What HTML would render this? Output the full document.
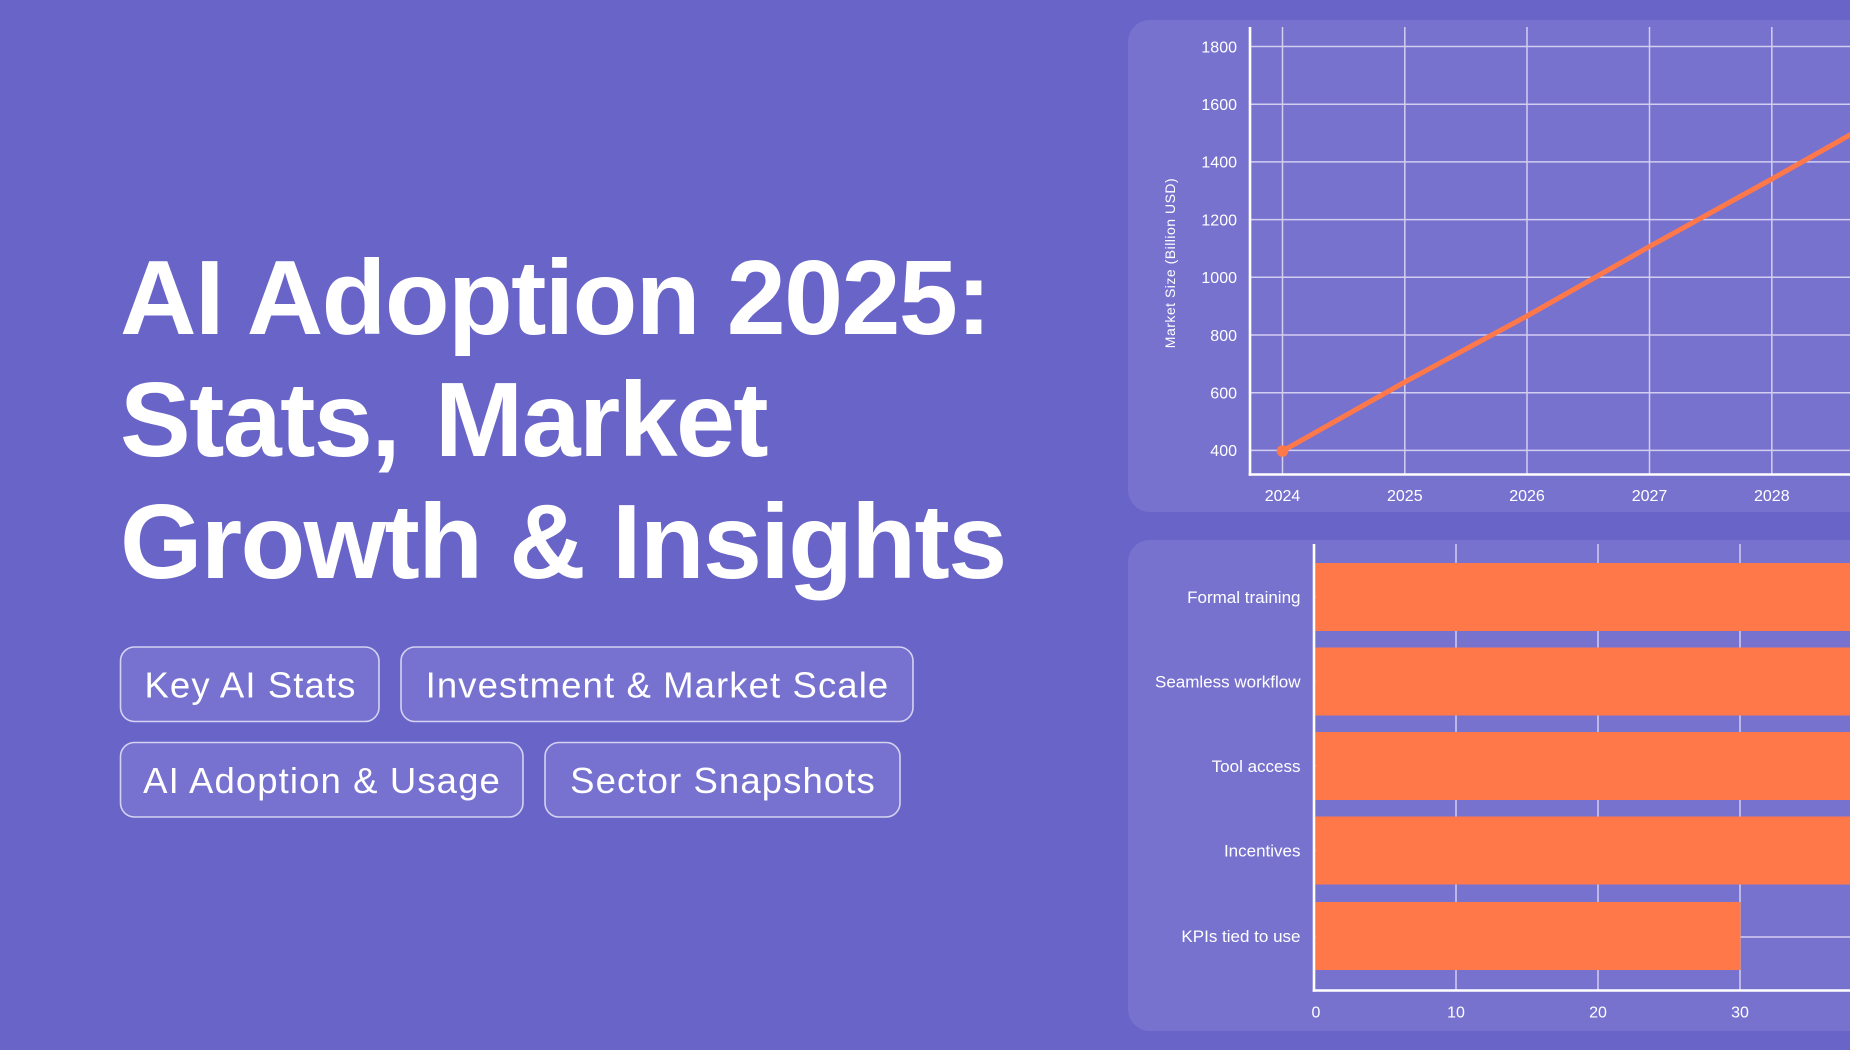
<!DOCTYPE html>
<html>
<head>
<meta charset="utf-8">
<style>
  html,body{margin:0;padding:0;background:#6964C8;}
  body{width:1850px;height:1050px;overflow:hidden;}
  svg{display:block;}
</style>
</head>
<body>
<svg width="1850" height="1050" viewBox="0 0 1850 1050" xmlns="http://www.w3.org/2000/svg">
  <rect x="0" y="0" width="1850" height="1050" fill="#6964C8"/>

  <!-- Title -->
  <g font-family="Liberation Sans, sans-serif" font-weight="700" font-size="106" fill="#ffffff" style="letter-spacing:-1.6px">
    <text x="120" y="334">AI Adoption 2025:</text>
    <text x="120" y="456" style="word-spacing:8px">Stats, Market</text>
    <text x="120" y="578">Growth &amp; Insights</text>
  </g>

  <!-- Pills -->
  <g fill="#7771D0" stroke="rgba(255,255,255,0.7)" stroke-width="1.6">
    <rect x="120.5" y="647" width="258.5" height="74.5" rx="14"/>
    <rect x="401" y="647" width="512" height="74.5" rx="14"/>
    <rect x="120.5" y="742.5" width="402.5" height="74.5" rx="14"/>
    <rect x="545" y="742.5" width="355" height="74.5" rx="14"/>
  </g>
  <g font-family="Liberation Sans, sans-serif" font-size="36.5" fill="#ffffff" text-anchor="middle" style="letter-spacing:1.1px">
    <text x="250.5" y="697.5">Key AI Stats</text>
    <text x="657.5" y="697.5">Investment &amp; Market Scale</text>
    <text x="322" y="793">AI Adoption &amp; Usage</text>
    <text x="723" y="793">Sector Snapshots</text>
  </g>

  <!-- ===== Top chart card ===== -->
  <rect x="1128" y="20" width="780" height="492" rx="22" fill="#7872CF"/>
  <g stroke="#D2CEF0" stroke-width="1.5">
    <line x1="1282.5" y1="27" x2="1282.5" y2="474"/>
    <line x1="1404.8" y1="27" x2="1404.8" y2="474"/>
    <line x1="1527" y1="27" x2="1527" y2="474"/>
    <line x1="1649.5" y1="27" x2="1649.5" y2="474"/>
    <line x1="1771.8" y1="27" x2="1771.8" y2="474"/>
    <line x1="1250" y1="46.5" x2="1850" y2="46.5"/>
    <line x1="1250" y1="104.2" x2="1850" y2="104.2"/>
    <line x1="1250" y1="161.9" x2="1850" y2="161.9"/>
    <line x1="1250" y1="219.6" x2="1850" y2="219.6"/>
    <line x1="1250" y1="277.3" x2="1850" y2="277.3"/>
    <line x1="1250" y1="335" x2="1850" y2="335"/>
    <line x1="1250" y1="392.7" x2="1850" y2="392.7"/>
    <line x1="1250" y1="450.4" x2="1850" y2="450.4"/>
  </g>
  <g stroke="#ffffff" stroke-width="2.6">
    <line x1="1250" y1="27" x2="1250" y2="475.8"/>
    <line x1="1248.7" y1="474.5" x2="1850" y2="474.5"/>
  </g>
  <polyline points="1282.5,451 1404.8,382 1527,316 1649.5,246.5 1771.8,179 1894,110" fill="none" stroke="#FF7849" stroke-width="5" stroke-linejoin="round" stroke-linecap="round"/>
  <circle cx="1282.5" cy="451" r="5.8" fill="#FF7849"/>
  <g font-family="Liberation Sans, sans-serif" font-size="16" fill="#ffffff" text-anchor="end">
    <text x="1237" y="52.3">1800</text>
    <text x="1237" y="110">1600</text>
    <text x="1237" y="167.7">1400</text>
    <text x="1237" y="225.4">1200</text>
    <text x="1237" y="283.1">1000</text>
    <text x="1237" y="340.8">800</text>
    <text x="1237" y="398.5">600</text>
    <text x="1237" y="456.2">400</text>
  </g>
  <g font-family="Liberation Sans, sans-serif" font-size="16" fill="#ffffff" text-anchor="middle">
    <text x="1282.5" y="501">2024</text>
    <text x="1404.8" y="501">2025</text>
    <text x="1527" y="501">2026</text>
    <text x="1649.5" y="501">2027</text>
    <text x="1771.8" y="501">2028</text>
  </g>
  <text transform="translate(1175,263) rotate(-90)" font-family="Liberation Sans, sans-serif" font-size="14" fill="#ffffff" text-anchor="middle" style="letter-spacing:0.5px">Market Size (Billion USD)</text>

  <!-- ===== Bottom chart card ===== -->
  <rect x="1128" y="540" width="780" height="491" rx="22" fill="#7872CF"/>
  <g stroke="#D2CEF0" stroke-width="1.5">
    <line x1="1456" y1="544" x2="1456" y2="990"/>
    <line x1="1598" y1="544" x2="1598" y2="990"/>
    <line x1="1740" y1="544" x2="1740" y2="990"/>
    <line x1="1315" y1="597" x2="1850" y2="597"/>
    <line x1="1315" y1="681.5" x2="1850" y2="681.5"/>
    <line x1="1315" y1="766" x2="1850" y2="766"/>
    <line x1="1315" y1="850.5" x2="1850" y2="850.5"/>
    <line x1="1315" y1="937" x2="1850" y2="937"/>
  </g>
  <g fill="#FF7849">
    <rect x="1315.5" y="563" width="540" height="68"/>
    <rect x="1315.5" y="647.5" width="540" height="68"/>
    <rect x="1315.5" y="732" width="540" height="68"/>
    <rect x="1315.5" y="816.5" width="540" height="68"/>
    <rect x="1315.5" y="902" width="425" height="68"/>
  </g>
  <g stroke="#ffffff" stroke-width="2.6">
    <line x1="1314" y1="544" x2="1314" y2="991.8"/>
    <line x1="1312.7" y1="990.5" x2="1850" y2="990.5"/>
  </g>
  <g font-family="Liberation Sans, sans-serif" font-size="17" fill="#ffffff" text-anchor="end">
    <text x="1300.5" y="603">Formal training</text>
    <text x="1300.5" y="687.5">Seamless workflow</text>
    <text x="1300.5" y="772">Tool access</text>
    <text x="1300.5" y="856.5">Incentives</text>
    <text x="1300.5" y="942">KPIs tied to use</text>
  </g>
  <g font-family="Liberation Sans, sans-serif" font-size="16" fill="#ffffff" text-anchor="middle">
    <text x="1316" y="1017.5">0</text>
    <text x="1456" y="1017.5">10</text>
    <text x="1598" y="1017.5">20</text>
    <text x="1740" y="1017.5">30</text>
  </g>
</svg>
</body>
</html>
